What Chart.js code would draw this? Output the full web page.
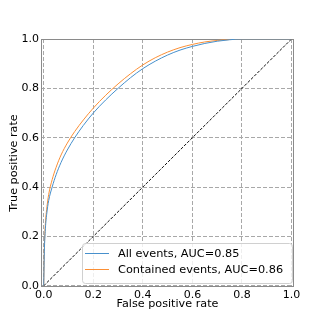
<!DOCTYPE html>
<html><head><meta charset="utf-8">
<script src="https://cdn.jsdelivr.net/npm/chart.js@4/dist/chart.umd.min.js"></script>
<style>html,body{margin:0;padding:0;background:#fff}#wrap{width:327px;height:327px}</style>
</head><body><div id="wrap"><canvas id="c" width="327" height="327"></canvas></div>
<script>
const fprGrid = [0, 0.002, 0.006, 0.012, 0.02, 0.034, 0.05, 0.07, 0.095, 0.125, 0.16, 0.2, 0.25, 0.3, 0.35, 0.4, 0.45, 0.5, 0.55, 0.6, 0.65, 0.7, 0.75, 0.8, 0.9, 1.0];
const tprAll = [0, 0.12, 0.22, 0.29, 0.345, 0.4, 0.45, 0.5, 0.55, 0.6, 0.65, 0.70, 0.753, 0.80, 0.843, 0.88, 0.91, 0.935, 0.955, 0.97, 0.982, 0.991, 0.997, 1.0, 1.0, 1.0];
const tprContained = [0, 0.13, 0.24, 0.31, 0.37, 0.43, 0.48, 0.53, 0.578, 0.625, 0.672, 0.72, 0.772, 0.818, 0.859, 0.895, 0.924, 0.947, 0.965, 0.978, 0.988, 0.994, 0.998, 1.0, 1.0, 1.0];
const chanceX = [0, 1];
const chanceY = [0, 1];
const seriesLabels = ["All events, AUC=0.85", "Contained events, AUC=0.86"];
const tickValues = [0, 0.2, 0.4, 0.6, 0.8, 1.0];
const xTitle = "False positive rate";
const yTitle = "True positive rate";

const FONT = "'DejaVu Sans', sans-serif";
const BLUE = '#4790cc', ORANGE = '#fb8f35';

const pts = (xs, ys) => xs.map((x, i) => ({x, y: ys[i]}));

const framePlugin = {
  id: 'frame',
  beforeDatasetsDraw(chart) {
    const {ctx, chartArea: a} = chart;
    ctx.save();
    ctx.strokeStyle = '#8a8a8a'; ctx.lineWidth = 1;
    ctx.strokeRect(Math.round(a.left) + 0.5, Math.round(a.top) + 0.5, Math.round(a.right - a.left) - 1, Math.round(a.bottom - a.top) - 1);
    ctx.restore();
  },
  afterDatasetsDraw(chart) {
    const {ctx, chartArea: a} = chart;
    ctx.save();
    const bx = 82.5, by = 243.5, bw = 210, bh = 40;
    ctx.fillStyle = 'rgba(255,255,255,0.8)';
    ctx.strokeStyle = '#d0d0d0'; ctx.lineWidth = 1;
    ctx.beginPath();
    if (ctx.roundRect) ctx.roundRect(bx, by, bw, bh, 3); else ctx.rect(bx, by, bw, bh);
    ctx.fill(); ctx.stroke();
    const cols = [BLUE, ORANGE];
    ctx.font = '11.3px ' + FONT; ctx.textBaseline = 'middle'; ctx.fillStyle = '#000';
    seriesLabels.forEach((lab, i) => {
      const y = 253.5 + i * 16;
      ctx.strokeStyle = cols[i]; ctx.lineWidth = 1;
      ctx.beginPath(); ctx.moveTo(85, y); ctx.lineTo(109, y); ctx.stroke();
      ctx.fillStyle = '#000';
      ctx.fillText(lab, 118, y + 0.5);
    });
    ctx.textAlign = 'center';
    ctx.font = '11.2px ' + FONT;
    ctx.fillText(xTitle, (a.left + a.right) / 2, 304);
    ctx.translate(14, (a.top + a.bottom) / 2);
    ctx.rotate(-Math.PI / 2);
    ctx.fillText(yTitle, 0, 0);
    ctx.restore();
  }
};

const setTicks = s => { s.ticks = tickValues.map(v => ({value: v})); };

new Chart(document.getElementById('c'), {
  type: 'line',
  data: {
    datasets: [
      {label: seriesLabels[0], data: pts(fprGrid, tprAll), borderColor: BLUE, borderWidth: 1, pointRadius: 0, cubicInterpolationMode: 'monotone', fill: false},
      {label: seriesLabels[1], data: pts(fprGrid, tprContained), borderColor: ORANGE, borderWidth: 1, pointRadius: 0, cubicInterpolationMode: 'monotone', fill: false},
      {label: 'chance', data: pts(chanceX, chanceY), borderColor: '#111', borderWidth: 1, borderDash: [3, 1.5], pointRadius: 0, fill: false}
    ]
  },
  options: {
    responsive: false, animation: false, devicePixelRatio: 1,
    layout: {padding: {top: 39, right: 33, left: 0, bottom: 0}},
    plugins: {legend: {display: false}, tooltip: {enabled: false}},
    scales: {
      x: {
        type: 'linear', min: -0.011, max: 1.01,
        afterBuildTicks: setTicks,
        afterFit: s => { s.height = 40; },
        grid: {color: '#a8a8a8', lineWidth: 1, drawTicks: false},
        border: {display: false, dash: [4, 2]},
        ticks: {font: {family: FONT, size: 11}, color: '#000', padding: 2, maxRotation: 0, callback: v => v.toFixed(1)}
      },
      y: {
        type: 'linear', min: -0.005, max: 1.0,
        afterBuildTicks: setTicks,
        afterFit: s => { s.width = 41; },
        grid: {color: '#a8a8a8', lineWidth: 1, drawTicks: false},
        border: {display: false, dash: [4, 2]},
        ticks: {font: {family: FONT, size: 11}, color: '#000', padding: 2, callback: v => v.toFixed(1)}
      }
    }
  },
  plugins: [framePlugin]
});
</script></body></html>
